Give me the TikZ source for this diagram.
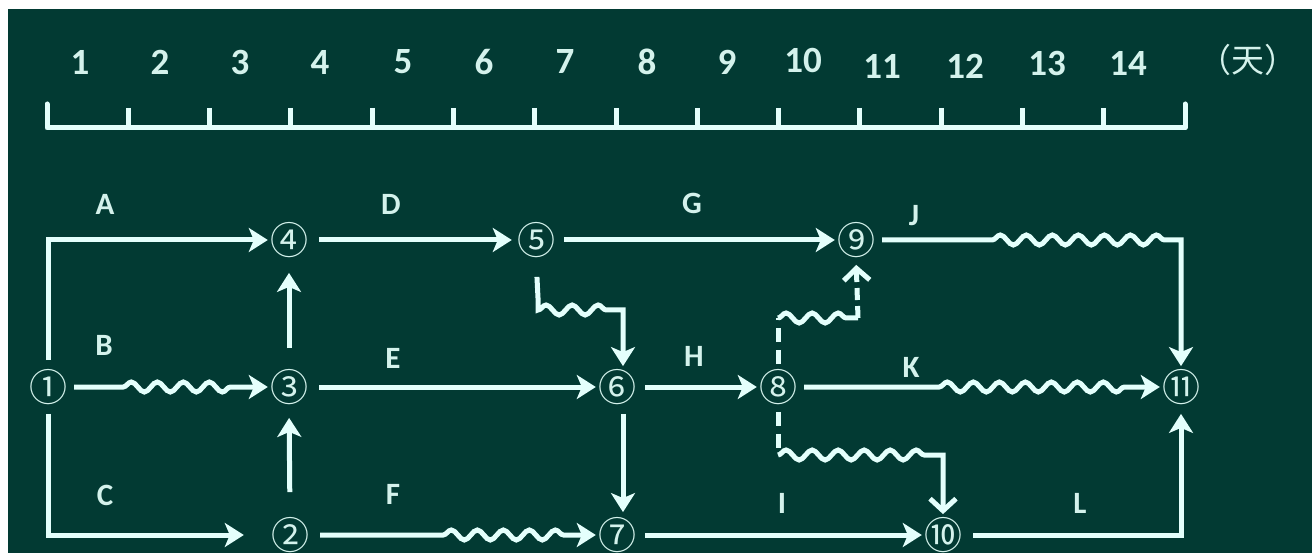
\documentclass[tikz,border=0pt]{standalone}
\usepackage{fontspec}
\setmainfont{Carlito}
\newfontfamily\cjk{Noto Sans CJK SC}
\usetikzlibrary{arrows.meta,decorations.pathmorphing}
\definecolor{bg}{RGB}{2,58,51}
\definecolor{ln}{RGB}{228,255,252}
\definecolor{tx}{RGB}{212,242,236}
\tikzset{
  lnk/.style={draw=ln, line width=5pt, -{Stealth[length=19pt,width=24pt,inset=5pt]}},
  dum/.style={draw=ln, line width=5pt, -{Straight Barb[length=12pt,width=26pt,line width=5pt]}},
  plain/.style={draw=ln, line width=5pt},
  dsh/.style={draw=ln, line width=5pt, dash pattern=on 14pt off 8pt},
  wv/.style={decoration={snake,segment length=26pt,amplitude=5pt}, decorate},
  ev/.style={font=\cjk\fontsize{38}{38}\selectfont, text=tx, inner sep=0pt},
  lab/.style={font=\bfseries\fontsize{31}{31}\selectfont, text=tx, inner sep=0pt},
  num/.style={font=\bfseries\fontsize{37}{37}\selectfont, text=tx, inner sep=0pt},
}
\begin{document}
\begin{tikzpicture}[x=1pt,y=-1pt]
\useasboundingbox (0,0) rectangle (1312,553);
\fill[white] (0,0) rectangle (1312,553);
\fill[bg] (8,9) rectangle (1312,553);
% ruler
\draw[plain, line cap=round, line join=round] (47,104) -- (47,128) -- (1185,128) -- (1185,104);
\foreach \i in {1,...,13} {
  \draw[plain] ({47+81.29*\i},108) -- ({47+81.29*\i},128);
}
\foreach \n/\x/\y in {1/80/62,2/160/62,3/240/62,4/320/62,5/403/62,6/484/62,7/565/62,8/647/62,9/727/62,10/803/60,11/882/66,12/965/66,13/1047/63,14/1128/63} {
  \node[num] (t\n) at (\x,\y) {\n};
}
\node[font=\cjk\fontsize{33}{33}\selectfont, text=tx, inner sep=0pt] (unit) at (1248,60) {（天）};
% events
\node[ev] (n1) at (48,387) {①};
\node[ev] (n2) at (290,535) {②};
\node[ev] (n3) at (289,387) {③};
\node[ev] (n4) at (289,240) {④};
\node[ev] (n5) at (536,240) {⑤};
\node[ev] (n6) at (617,387) {⑥};
\node[ev] (n7) at (617,535) {⑦};
\node[ev] (n8) at (778,387) {⑧};
\node[ev] (n9) at (856,240) {⑨};
\node[ev] (n10) at (943,535) {⑩};
\node[ev] (n11) at (1181,387) {⑪};
% coordinates for dummies
\coordinate (c5) at (538,298);
\coordinate (c8u) at (778,318);
\coordinate (c9) at (858,318);
\coordinate (c8d) at (778,455);
% activities
\draw[lnk, shorten <=9pt, shorten >=2pt] (n1.north) |- (n4.west);
\draw[lnk, shorten <=7pt, shorten >=2pt] (n1.east) -- ++(56,0) decorate[wv]{-- ++(112,0)} -- (n3.west);
\draw[lnk, shorten <=9pt, shorten >=27pt] (n1.south) |- (n2.west);
\draw[lnk, shorten <=11pt, shorten >=5pt] (n4.east) -- (n5.west);
\draw[lnk, shorten <=11pt, shorten >=2pt] (n3.east) -- (n6.west);
\draw[lnk, shorten <=11pt, shorten >=2pt] (n2.east) -- ++(134,0) decorate[wv]{-- ++(122,0)} -- (n7.west);
\draw[lnk, shorten <=9pt, shorten >=2pt] (n5.east) -- (n9.west);
\draw[lnk, shorten <=9pt, shorten >=2pt] (n6.east) -- (n8.west);
\draw[lnk, shorten <=9pt, shorten >=2pt] (n7.east) -- (n10.west);
\draw[lnk, shorten <=7pt, shorten >=2pt] (n8.east) -- ++(142,0) decorate[wv]{-- ++(198,0)} -- (n11.west);
\draw[lnk, shorten <=7pt, shorten >=3pt] (n9.east) -- ++(117,0) decorate[wv]{-- ++(182,0)} -| (n11.north);
\draw[lnk, shorten <=11pt, shorten >=9pt] (n10.east) -| (n11.south);
\draw[lnk, shorten <=21pt, shorten >=15pt] (n3.north) -- (n4.south);
\draw[lnk, shorten <=25pt, shorten >=13pt] (n2.north) -- (n3.south);
\draw[lnk, shorten <=9pt, shorten >=5pt] ([xshift=6pt]n6.south) -- ([xshift=6pt]n7.north);
% dummies
\draw[plain, shorten <=19pt] (n5.south) -- (c5);
\draw[lnk, shorten >=3pt] (c5) -- ++(0,12) decorate[wv]{-- ++(78,0)} -| ([xshift=6pt]n6.north);
\draw[dsh, shorten <=5pt] (n8.north) -- (c8u);
\draw[plain] (c8u) decorate[wv]{-- (c9)};
\draw[dum, shorten >=7pt, dash pattern=on 12pt off 6pt] (c9) -- (n9.south);
\draw[dsh, shorten <=7pt] (n8.south) -- (c8d);
\draw[dum, shorten >=3pt] (c8d) decorate[wv]{-- ++(158,0)} -| (n10.north);
% labels
\node[lab] (lA) at (105,204) {A};
\node[lab] (lB) at (104,345) {B};
\node[lab] (lC) at (105,495) {C};
\node[lab] (lD) at (391,204) {D};
\node[lab] (lE) at (393,358) {E};
\node[lab] (lF) at (393,494) {F};
\node[lab] (lG) at (692,203) {G};
\node[lab] (lH) at (694,356) {H};
\node[lab] (lI) at (782,503) {I};
\node[lab] (lJ) at (914,216) {J};
\node[lab] (lK) at (911,367) {K};
\node[lab] (lL) at (1080,503) {L};
\end{tikzpicture}
\end{document}
